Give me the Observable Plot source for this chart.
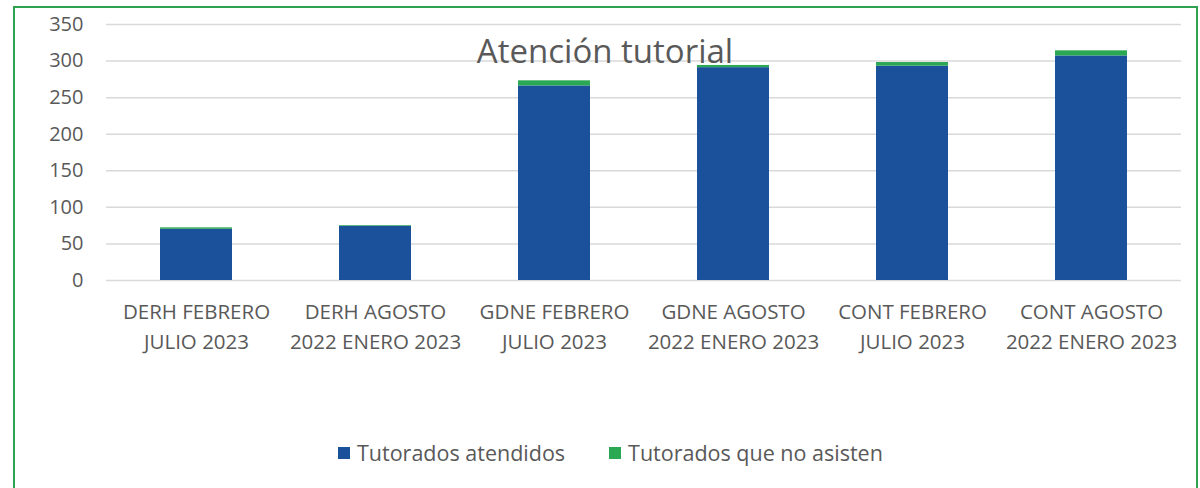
<!DOCTYPE html>
<html>
<head>
<meta charset="utf-8">
<script src="https://cdn.jsdelivr.net/npm/d3@7"></script>
<script src="https://cdn.jsdelivr.net/npm/@observablehq/plot@0.6"></script>
<style>
  html, body { margin: 0; padding: 0; background: #fff; width: 1200px; height: 488px; overflow: hidden; }
  #wrap { position: relative; width: 1200px; height: 488px; font-family: "Open Sans", sans-serif; }
  #frame { position: absolute; left: 13px; top: 6px; width: 1185px; height: 500px; border: 2px solid #2ea24f; border-bottom: none; box-sizing: border-box; }
  #chart { position: absolute; left: 0; top: 0; }
  #title { position: absolute; left: 0; width: 1210px; top: 34px; text-align: center; font-size: 33px; color: #595959; line-height: 1; }
  #legend { position: absolute; top: 438px; left: 338px; display: flex; align-items: center; font-size: 21.5px; color: #595959; }
  .sw { display: inline-block; width: 12px; height: 12px; margin-right: 7px; }
  .item { display: flex; align-items: center; margin-right: 44px; }
</style>
</head>
<body>
<div id="wrap">
  <div id="frame"></div>
  <div id="chart"></div>
  <div id="title">Atención tutorial</div>
  <div id="legend"></div>
</div>
<script>
const categories = [
  "DERH FEBRERO\nJULIO 2023",
  "DERH AGOSTO\n2022 ENERO 2023",
  "GDNE FEBRERO\nJULIO 2023",
  "GDNE AGOSTO\n2022 ENERO 2023",
  "CONT FEBRERO\nJULIO 2023",
  "CONT AGOSTO\n2022 ENERO 2023"
];
const atendidos = [70, 74, 266, 291, 293, 307];
const noAsisten = [2, 1, 7, 3, 5, 7];
const seriesNames = ["Tutorados atendidos", "Tutorados que no asisten"];
const seriesColors = ["#1b519b", "#2aa853"];
const yTicks = [0, 50, 100, 150, 200, 250, 300, 350];

const rows = [];
categories.forEach((c, i) => {
  rows.push({cat: c, serie: seriesNames[0], value: atendidos[i]});
  rows.push({cat: c, serie: seriesNames[1], value: noAsisten[i]});
});

const chart = Plot.plot({
  width: 1200,
  height: 488,
  marginLeft: 106,
  marginRight: 19,
  marginTop: 24,
  marginBottom: 208,
  style: {fontFamily: "'Open Sans', sans-serif", color: "#595959", background: "transparent", overflow: "visible"},
  x: {domain: categories, paddingInner: 0.6, paddingOuter: 0.3, label: null},
  y: {domain: [0, 350], ticks: yTicks, label: null},
  color: {domain: seriesNames, range: seriesColors},
  marks: [
    Plot.gridY(yTicks, {stroke: "#d9d9d9", strokeOpacity: 1, strokeWidth: 1.5}),
    Plot.barY(rows, Plot.stackY({x: "cat", y: "value", fill: "serie", order: seriesNames})),
    Plot.axisY(yTicks, {tickSize: 0, tickPadding: 23, fontSize: 20, fill: "#595959", label: null}),
    Plot.axisX({tickSize: 0, tickPadding: 17, fontSize: 20.5, fill: "#595959", lineHeight: 1.48, label: null})
  ]
});
document.getElementById("chart").appendChild(chart);

const legend = document.getElementById("legend");
seriesNames.forEach((n, i) => {
  const it = document.createElement("div");
  it.className = "item";
  const sw = document.createElement("span");
  sw.className = "sw";
  sw.style.background = seriesColors[i];
  it.appendChild(sw);
  it.appendChild(document.createTextNode(n));
  legend.appendChild(it);
});
</script>
</body>
</html>
